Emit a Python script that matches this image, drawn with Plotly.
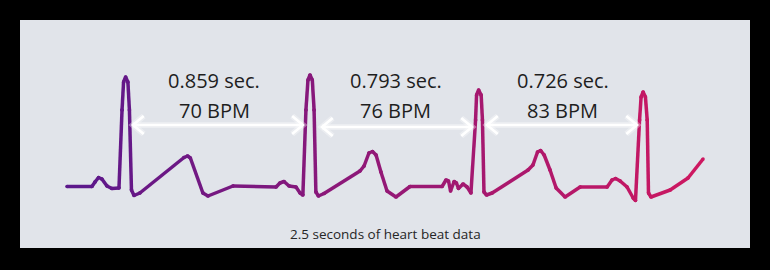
import plotly.graph_objects as go

# ECG trace: time (s) and amplitude (mV)
ecg_t = [0.000, 0.098, 0.110, 0.124, 0.137, 0.157, 0.176, 0.204,
         0.216, 0.222, 0.230, 0.239, 0.245, 0.253, 0.263, 0.286,
         0.459, 0.473, 0.484, 0.533, 0.553, 0.651, 0.820, 0.835,
         0.851, 0.871, 0.898, 0.914, 0.925,
         0.937, 0.945, 0.953, 0.962, 0.969, 0.976, 0.986, 1.008,
         1.149, 1.165, 1.184, 1.198, 1.212, 1.231, 1.255, 1.290,
         1.345, 1.471, 1.486, 1.496, 1.504, 1.518, 1.527, 1.535,
         1.553, 1.569, 1.584,
         1.602, 1.606, 1.614, 1.624, 1.629, 1.635, 1.645, 1.667,
         1.808, 1.827, 1.845, 1.857, 1.871, 1.894, 1.918, 1.953,
         2.012, 2.118, 2.137, 2.151, 2.169, 2.196, 2.220, 2.229,
         2.245, 2.251, 2.259, 2.268, 2.275, 2.280, 2.290, 2.365,
         2.435, 2.494]
ecg_v = [0.000, 0.000, 0.045, 0.090, 0.075, 0.005, -0.020, -0.015,
         0.765, 1.045, 1.095, 1.045, 0.765, -0.035, -0.090, -0.065,
         0.290, 0.305, 0.285, -0.065, -0.095, 0.005, -0.005, 0.035,
         0.050, 0.005, -0.005, -0.065, -0.085,
         0.765, 1.065, 1.115, 1.065, 0.765, -0.055, -0.095, -0.070,
         0.155, 0.205, 0.335, 0.350, 0.315, 0.145, -0.045, -0.105,
         0.000, 0.000, 0.065, 0.055, -0.045, 0.050, 0.035, -0.020,
         0.025, -0.005, -0.065,
         0.665, 0.915, 0.965, 0.915, 0.665, -0.055, -0.085, -0.065,
         0.165, 0.215, 0.345, 0.360, 0.315, 0.165, -0.015, -0.105,
         -0.005, -0.005, 0.065, 0.080, 0.055, -0.005, -0.115, -0.140,
         0.665, 0.895, 0.945, 0.895, 0.665, -0.065, -0.105, -0.035,
         0.085, 0.275]

# interval annotations
interval_sec = ["0.859 sec.", "0.793 sec.", "0.726 sec."]
interval_bpm = ["70 BPM", "76 BPM", "83 BPM"]
label_t = [0.578, 1.290, 1.943]
arrow_start = [0.259, 1.000, 1.647]
arrow_end = [0.925, 1.588, 2.235]
arrow_v = [0.615, 0.595, 0.615]
caption = "2.5 seconds of heart beat data"

C0 = (90, 24, 140)
C1 = (206, 24, 96)


def col(frac):
    r = [round(a + (b - a) * frac) for a, b in zip(C0, C1)]
    return f"rgb({r[0]},{r[1]},{r[2]})"


fig = go.Figure()
tmax = ecg_t[-1]
lw = 3.5
for i in range(len(ecg_t) - 1):
    c = col(((ecg_t[i] + ecg_t[i + 1]) / 2) / tmax)
    fig.add_trace(go.Scatter(
        x=[ecg_t[i], ecg_t[i + 1]], y=[ecg_v[i], ecg_v[i + 1]],
        mode="lines+markers", line=dict(color=c, width=lw),
        marker=dict(color=c, size=lw, line=dict(width=0)),
        hoverinfo="skip", showlegend=False))

# arrows
dx, dy = 0.042, 0.09
for s, e, v in zip(arrow_start, arrow_end, arrow_v):
    for w, c in [(6, "rgba(255,255,255,0.35)"), (2.6, "white")]:
        fig.add_trace(go.Scatter(x=[s, e], y=[v, v], mode="lines",
                                 line=dict(color=c, width=w),
                                 hoverinfo="skip", showlegend=False))
        fig.add_trace(go.Scatter(x=[s + dx, s, s + dx], y=[v + dy, v, v - dy],
                                 mode="lines", line=dict(color=c, width=w),
                                 hoverinfo="skip", showlegend=False))
        fig.add_trace(go.Scatter(x=[e - dx, e, e - dx], y=[v + dy, v, v - dy],
                                 mode="lines", line=dict(color=c, width=w),
                                 hoverinfo="skip", showlegend=False))

annotations = []
for lt, s1, s2 in zip(label_t, interval_sec, interval_bpm):
    annotations.append(dict(x=lt, y=1.06, xref="x", yref="y", text=s1,
                            showarrow=False, xanchor="center", yanchor="middle",
                            font=dict(family="Open Sans", size=20, color="#1e1e1e")))
    annotations.append(dict(x=lt, y=0.76, xref="x", yref="y", text=s2,
                            showarrow=False, xanchor="center", yanchor="middle",
                            font=dict(family="Open Sans", size=20, color="#1e1e1e")))
annotations.append(dict(x=0.5, y=0.062, xref="paper", yref="paper", text=caption,
                        showarrow=False, xanchor="center", yanchor="middle",
                        font=dict(family="Open Sans", size=13.5, color="#262626")))

fig.update_layout(
    width=770, height=270,
    margin=dict(l=20, r=20, t=20, b=22),
    paper_bgcolor="black", plot_bgcolor="#e1e4ea",
    xaxis=dict(range=[-0.184, 2.678], visible=False, fixedrange=True),
    yaxis=dict(range=[-0.615, 1.665], visible=False, fixedrange=True),
    annotations=annotations,
    showlegend=False,
)

fig.write_html("out.html")
